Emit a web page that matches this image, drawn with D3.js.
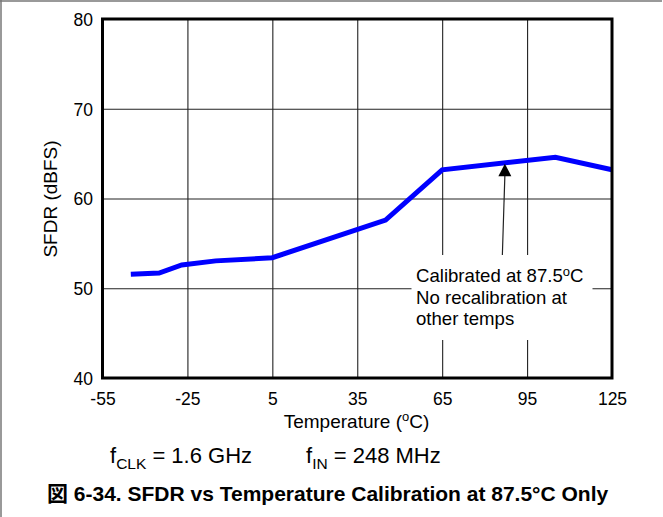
<!DOCTYPE html>
<html>
<head>
<meta charset="utf-8">
<script src="https://cdn.jsdelivr.net/npm/d3@7"></script>
<style>
  html, body { margin: 0; padding: 0; background: #fff; }
  svg { display: block; }
  text { font-family: "Liberation Sans", Arial, Helvetica, sans-serif; fill: #000; }
</style>
</head>
<body>
<svg id="chart" width="663" height="517"></svg>
<script>
// ---- data ----
const temperatures = [-45, -35, -27, -15, 5, 45, 65, 105, 125];
const sfdrValues   = [51.55, 51.7, 52.6, 53.05, 53.4, 57.6, 63.2, 64.6, 63.2];
const xTicks = [-55, -25, 5, 35, 65, 95, 125];
const yTicks = [40, 50, 60, 70, 80];
const calibrationTemp = 87.5;
const annotationLines = ["Calibrated at 87.5", "No recalibration at", "other temps"];

// ---- layout ----
const W = 663, H = 517;
const pL = 102.5, pR = 612, pT = 19, pB = 378;
const FS = 17.5;

const svg = d3.select("#chart");
const x = d3.scaleLinear().domain([-55, 125]).range([pL, pR]);
const y = d3.scaleLinear().domain([40, 80]).range([pB, pT]);

// page border (top and left)
svg.append("line").attr("x1", 0).attr("x2", 662).attr("y1", 1).attr("y2", 1)
  .attr("stroke", "#777").attr("stroke-width", 1.5);
svg.append("line").attr("x1", 1).attr("x2", 1).attr("y1", 0).attr("y2", H)
  .attr("stroke", "#777").attr("stroke-width", 1.5);

// gridlines via axes
const gx = svg.append("g").attr("transform", `translate(0,${pB})`)
  .call(d3.axisBottom(x).tickValues(xTicks.slice(1, -1)).tickSize(-(pB - pT)).tickFormat(""));
gx.select(".domain").remove();
gx.selectAll("line").attr("stroke", "#222").attr("stroke-width", 1.1);

const gy = svg.append("g").attr("transform", `translate(${pL},0)`)
  .call(d3.axisLeft(y).tickValues(yTicks.slice(1, -1)).tickSize(-(pR - pL)).tickFormat(""));
gy.select(".domain").remove();
gy.selectAll("line").attr("stroke", "#222").attr("stroke-width", 1.1);

// annotation white box (covers gridlines)
const annoX = 416, annoY0 = 282, annoDY = 21.5;
svg.append("rect").attr("x", 411.5).attr("y", 255).attr("width", 181).attr("height", 85).attr("fill", "#fff");

// data line
const line = d3.line().x((d, i) => x(temperatures[i])).y(d => y(d));
svg.append("path").datum(sfdrValues)
  .attr("d", line).attr("fill", "none")
  .attr("stroke", "#0000ff").attr("stroke-width", 5).attr("stroke-linejoin", "miter");

// frame
svg.append("rect").attr("x", pL).attr("y", pT)
  .attr("width", pR - pL).attr("height", pB - pT)
  .attr("fill", "none").attr("stroke", "#000").attr("stroke-width", 3);

// tick labels via axes
const ax = svg.append("g").attr("transform", `translate(0,${pB})`)
  .call(d3.axisBottom(x).tickValues(xTicks).tickSize(0).tickFormat(d => String(d)));
ax.select(".domain").remove();
ax.selectAll("text").attr("y", 27).attr("dy", 0)
  .style("font-size", FS + "px").style("font-family", "Liberation Sans, Arial, sans-serif").attr("fill", "#000");

const ay = svg.append("g").attr("transform", `translate(${pL},0)`)
  .call(d3.axisLeft(y).tickValues(yTicks).tickSize(0).tickPadding(9.5).tickFormat(d => String(d)));
ay.select(".domain").remove();
ay.selectAll("text").attr("dy", "0.36em")
  .style("font-size", FS + "px").style("font-family", "Liberation Sans, Arial, sans-serif").attr("fill", "#000");

// axis titles
const xt = svg.append("text").attr("x", 356.5).attr("y", 427.5).attr("text-anchor", "middle")
  .style("font-size", "19px");
xt.append("tspan").text("Temperature (");
xt.append("tspan").attr("dy", -6.5).style("font-size", "13px").text("o");
xt.append("tspan").attr("dy", 6.5).text("C)");

svg.append("text")
  .attr("transform", "translate(57,199) rotate(-90)")
  .attr("text-anchor", "middle").style("font-size", "19px")
  .text("SFDR (dBFS)");

// annotation arrow
const tipX = x(calibrationTemp);
const tipY = y(d3.interpolateNumber(sfdrValues[6], sfdrValues[7])((calibrationTemp - 65) / 40)) + 1;
svg.append("line").attr("x1", tipX - 1).attr("y1", tipY + 12).attr("x2", tipX - 3.5).attr("y2", 255)
  .attr("stroke", "#222").attr("stroke-width", 1.2);
svg.append("path")
  .attr("d", `M${tipX - 1},${tipY} L${tipX - 7.5},${tipY + 12.5} L${tipX + 5.5},${tipY + 12.5} Z`)
  .attr("fill", "#000");

// annotation text
annotationLines.forEach((s, i) => {
  const t = svg.append("text").attr("x", annoX).attr("y", annoY0 + i * annoDY).style("font-size", "18.6px");
  t.append("tspan").text(s);
  if (i === 0) {
    t.append("tspan").attr("dy", -6.5).style("font-size", "13px").text("o");
    t.append("tspan").attr("dy", 6.5).text("C");
  }
});

// conditions
const c1 = svg.append("text").attr("x", 110).attr("y", 463).style("font-size", "22px");
c1.append("tspan").text("f");
c1.append("tspan").attr("dy", 6).style("font-size", "15.5px").text("CLK");
c1.append("tspan").attr("dy", -6).text(" = 1.6 GHz");
const c2 = svg.append("text").attr("x", 306).attr("y", 463).style("font-size", "22px");
c2.append("tspan").text("f");
c2.append("tspan").attr("dy", 6).style("font-size", "15.5px").text("IN");
c2.append("tspan").attr("dy", -6).text(" = 248 MHz");

// caption
const cap = svg.append("text").attr("x", 47).attr("y", 501).style("font-size", "21px").style("font-weight", "bold");
cap.append("tspan").style("font-family", "Noto Sans CJK JP").text("図");
cap.append("tspan").text(" 6-34. SFDR vs Temperature Calibration at 87.5°C Only");
</script>
</body>
</html>
